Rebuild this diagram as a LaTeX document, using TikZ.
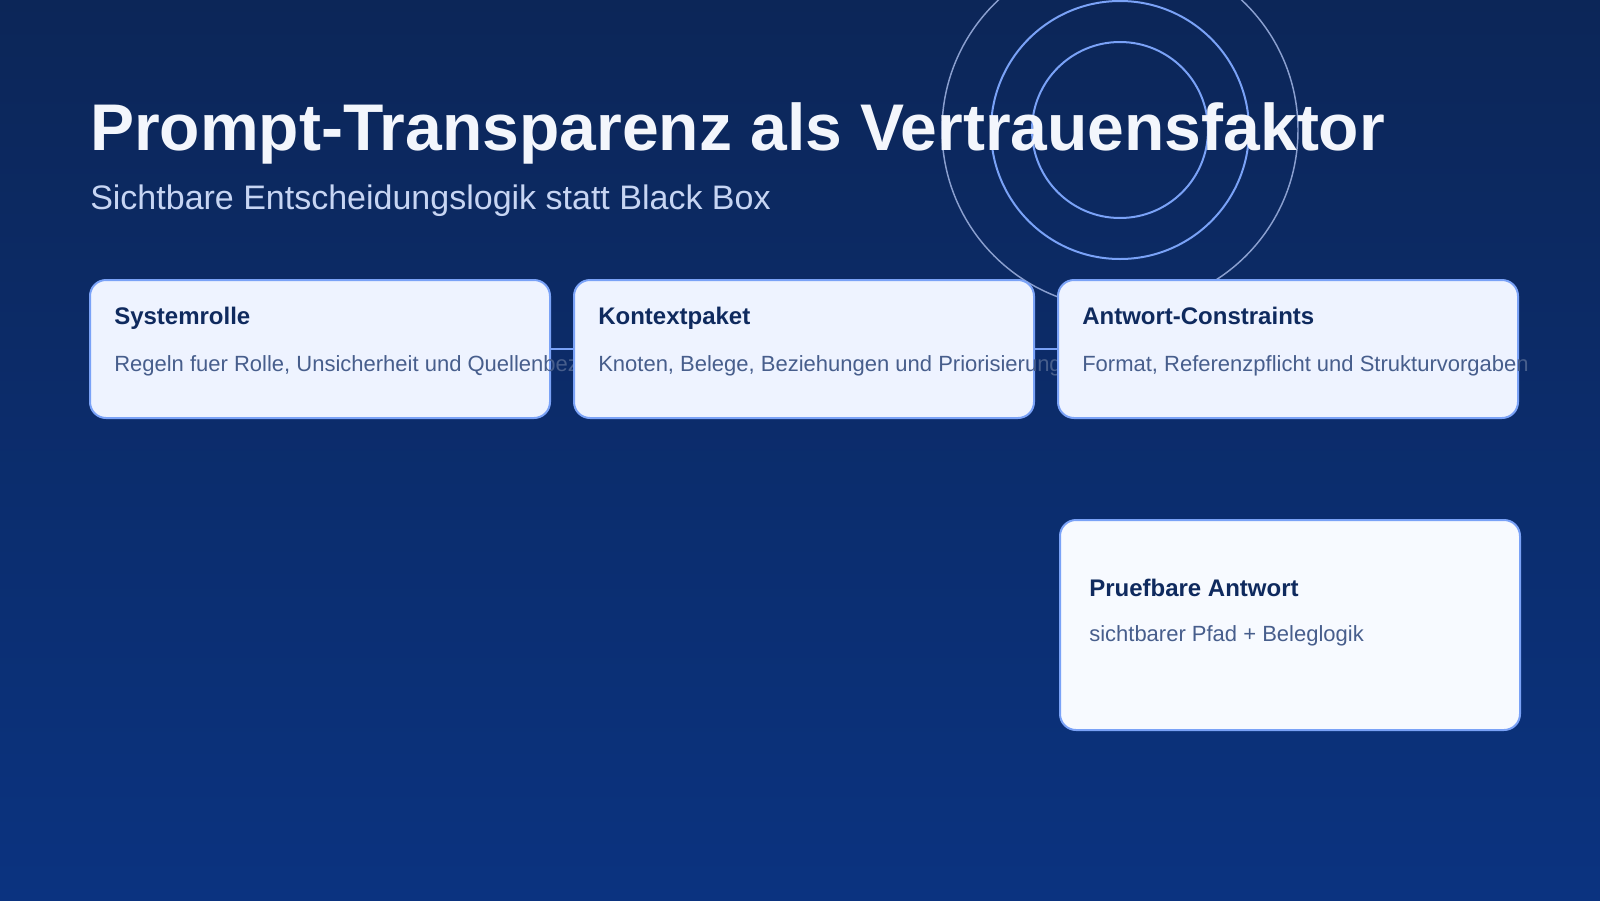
\documentclass[tikz,border=0pt]{standalone}
\usepackage{fontspec}
\setmainfont{Liberation Sans}
\definecolor{bgtop}{HTML}{0C2658}
\definecolor{bgbot}{HTML}{0B3380}
\definecolor{ringc}{HTML}{7AA2F7}
\definecolor{ringo}{HTML}{8A9FCF}
\definecolor{titlec}{HTML}{F3F6FC}
\definecolor{subc}{HTML}{C7D5F3}
\definecolor{boxfill}{HTML}{EEF3FF}
\definecolor{boxfillb}{HTML}{F7FAFF}
\definecolor{boxline}{HTML}{7AA2F7}
\definecolor{headc}{HTML}{0F2A5E}
\definecolor{bodyc}{HTML}{475E8C}
\tikzset{
  cardbox/.style={draw=boxline, line width=1.5pt, fill=boxfill, rounded corners=12pt,
    minimum width=345pt, minimum height=103.5pt, inner sep=0pt},
  resultbox/.style={cardbox, fill=boxfillb, minimum height=157.5pt},
  cardhead/.style={anchor=base west, inner sep=0pt, text=headc, font=\fontsize{18pt}{21pt}\selectfont\bfseries},
  cardbody/.style={anchor=base west, inner sep=0pt, text=bodyc, font=\fontsize{16.5pt}{19pt}\selectfont},
  ring/.style={draw=ringc, line width=1.5pt},
  ringouter/.style={draw=ringo, line width=1.1pt},
  link/.style={draw=boxline, line width=2.2pt}
}
\begin{document}
\begin{tikzpicture}[x=0.75pt,y=-0.75pt]
\useasboundingbox (0,0) rectangle (1600,900);
\shade[top color=bgtop, bottom color=bgbot] (0,0) rectangle (1600,900);
% rings
\coordinate (rc) at (1120,130);
\draw[ringouter] (rc) circle[radius=133.5pt];
\draw[ring] (rc) circle[radius=96.75pt];
\draw[ring] (rc) circle[radius=66pt];
% title
\node[anchor=base west, inner sep=0pt, text=titlec, font=\fontsize{49.5pt}{56pt}\selectfont\bfseries] (title) at (90,150.5) {Prompt-Transparenz als Vertrauensfaktor};
\node[anchor=base west, inner sep=0pt, text=subc, font=\fontsize{25.5pt}{30pt}\selectfont] (subtitle) at (90,209) {Sichtbare Entscheidungslogik statt Black Box};
% cards
\node[cardbox] (b1) at (320,349) {};
\node[cardhead] (b1h) at (114,324.5) {Systemrolle};
\node[cardbody] (b1t) at (114,371.5) {Regeln fuer Rolle, Unsicherheit und Quellenbezug};
\node[cardbox] (b2) at (804,349) {};
\node[cardhead] (b2h) at (598,324.5) {Kontextpaket};
\node[cardbody] (b2t) at (598,371.5) {Knoten, Belege, Beziehungen und Priorisierung};
\node[cardbox] (b3) at (1288,349) {};
\node[cardhead] (b3h) at (1082,324.5) {Antwort-Constraints};
\node[cardbody] (b3t) at (1082,371.5) {Format, Referenzpflicht und Strukturvorgaben};
\draw[link] (b1.east) -- (b2.west);
\draw[link] (b2.east) -- (b3.west);
\node[resultbox] (b4) at (1290,625) {};
\node[cardhead] (b4h) at (1089,596) {Pruefbare Antwort};
\node[cardbody] (b4t) at (1089,641.5) {sichtbarer Pfad + Beleglogik};
\end{tikzpicture}
\end{document}
